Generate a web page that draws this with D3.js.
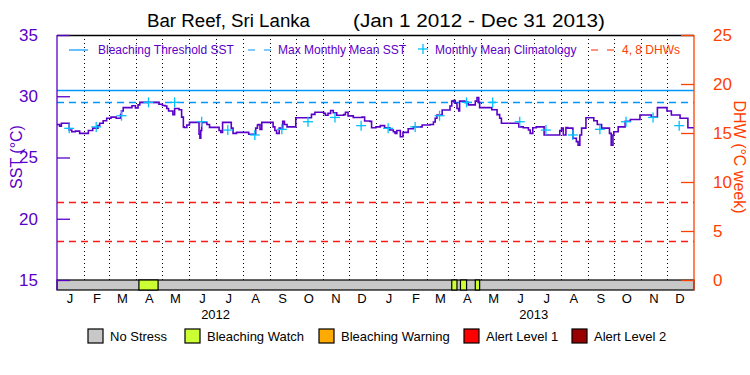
<!DOCTYPE html>
<html>
<head>
<meta charset="utf-8">
<script src="https://cdn.jsdelivr.net/npm/d3@7"></script>
<style>
  body { margin: 0; background: #fff; }
  text { font-family: "Liberation Sans", Arial, sans-serif; }
</style>
</head>
<body>
<div id="chart"></div>
<script>

// SST series, days since 2012-01-01 and degrees C
var sstDays = [0, 3, 5, 13, 14, 17, 21, 26, 36, 41, 47, 49, 53, 57, 62, 68, 73, 74, 76, 86,
  90, 93, 95, 117, 121, 124, 126, 128, 133, 135, 140, 143, 145, 146, 149, 152, 162, 163, 164, 165,
  166, 172, 175, 186, 188, 190, 199, 200, 202, 206, 220, 227, 228, 230, 231, 233, 235, 246, 248, 250,
  252, 255, 259, 261, 264, 274, 292, 296, 306, 308, 311, 314, 317, 321, 329, 331, 334, 340, 350, 353,
  359, 361, 366, 371, 376, 382, 386, 388, 390, 394, 397, 403, 409, 419, 428, 432, 434, 436, 442, 451,
  453, 455, 457, 459, 461, 462, 468, 472, 480, 482, 484, 485, 499, 505, 508, 510, 528, 530, 535, 541,
  543, 546, 550, 559, 577, 579, 581, 584, 586, 592, 596, 598, 600, 602, 607, 614, 616, 620, 625, 634,
  636, 638, 639, 644, 652, 658, 669, 682, 689, 698, 700, 705, 715, 724, 731];
var sstValues = [27.7, 27.55, 27.8, 27.8, 27.25, 27.1, 27.15, 26.97, 27.2, 27.4, 27.6, 27.8, 28.0, 28.2, 28.3, 28.2, 28.5, 28.8, 29.07, 29.23,
  29.05, 29.3, 29.5, 29.35, 29.25, 29.2, 29.0, 28.8, 28.5, 29.0, 28.9, 28.3, 27.5, 27.45, 27.65, 27.87, 27.87, 26.9, 26.57, 27.2,
  27.87, 27.7, 27.46, 27.2, 27.05, 27.87, 27.87, 27.4, 26.97, 27.05, 26.9, 26.9, 27.4, 27.65, 27.7, 27.3, 27.87, 27.87, 27.5, 27.2,
  26.97, 27.4, 27.95, 27.7, 27.5, 28.25, 28.52, 28.69, 28.6, 28.45, 28.6, 28.84, 28.65, 28.45, 28.5, 28.69, 28.4, 28.27, 28.3, 27.98,
  27.95, 27.43, 27.5, 27.6, 27.43, 27.25, 27.1, 26.97, 27.2, 26.7, 27.05, 27.35, 27.5, 27.65, 27.7, 27.9, 28.2, 28.47, 28.88, 29.2,
  29.6, 29.65, 29.43, 29.0, 28.8, 29.6, 29.5, 29.3, 29.6, 29.9, 29.5, 29.07, 28.9, 28.5, 28.2, 27.8, 27.8, 27.5, 27.43, 27.25,
  26.97, 27.43, 27.5, 26.84, 27.2, 27.4, 26.84, 27.45, 27.4, 26.57, 26.3, 26.0, 26.84, 27.4, 28.25, 28.25, 28.0, 27.7, 27.4, 26.97,
  26.0, 26.84, 27.1, 27.5, 27.96, 28.1, 28.47, 28.3, 29.07, 29.07, 28.8, 28.47, 28.2, 27.43, 27.43];

// monthly mean climatology, Jan..Dec
var climMonths = ["Jan", "Feb", "Mar", "Apr", "May", "Jun", "Jul", "Aug", "Sep", "Oct", "Nov", "Dec"];
var climValues = [27.38, 27.5, 28.41, 29.5, 29.5, 27.92, 27.24, 26.84, 27.3, 27.92, 28.27, 27.6];

var mmm = 29.5;
var bleachingThreshold = 30.5;
var dhwLevels = [4, 8];

// stress periods shown in the bar under the plot
var stressStart = ["2012-04-04", "2013-03-29", "2013-04-08", "2013-04-25"];
var stressEnd = ["2012-04-26", "2013-04-04", "2013-04-15", "2013-04-30"];
var stressLevel = ["Bleaching Watch", "Bleaching Watch", "Bleaching Watch", "Bleaching Watch"];

var stressNames = ["No Stress", "Bleaching Watch", "Bleaching Warning", "Alert Level 1", "Alert Level 2"];
var stressColors = ["#c8c8c8", "#ccff33", "#ffaa00", "#ff0000", "#990000"];

var sstTicks = [15, 20, 25, 30, 35];
var dhwTicks = [0, 5, 10, 15, 20, 25];

var PURPLE = "#5a00c8";
var ORANGE = "#ff4000";
var BLUE = "#0096ff";
var CYAN = "#00c0ff";

var W = 750, H = 375;
// note: "top" is a reserved window property, so use plot* names
var plotL = 57, plotR = 694, plotT = 35, plotB = 280, barH = 10;

var svg = d3.select("#chart").append("svg")
  .attr("width", W).attr("height", H);

var parse = d3.timeParse("%Y-%m-%d");
var t0 = new Date(2012, 0, 1), t1 = new Date(2014, 0, 1);

var x = d3.scaleTime().domain([t0, t1]).range([plotL, plotR]);
var ySst = d3.scaleLinear().domain([15, 35]).range([plotB, plotT]);
var yDhw = d3.scaleLinear().domain([0, 25]).range([plotB, plotT]);

function crisp(v) { return Math.round(v) + 0.5; }

// title
svg.append("text").attr("x", 147).attr("y", 27).attr("font-size", 18)
  .attr("textLength", 163).attr("lengthAdjust", "spacingAndGlyphs").text("Bar Reef, Sri Lanka");
svg.append("text").attr("x", 353).attr("y", 27).attr("font-size", 18)
  .attr("textLength", 252).attr("lengthAdjust", "spacingAndGlyphs").text("(Jan 1 2012 - Dec 31 2013)");

// month dividers
svg.append("g").selectAll("line")
  .data(d3.timeMonth.range(new Date(2012, 1, 1), t1))
  .enter().append("line")
  .attr("x1", function(d) { return crisp(x(d)); })
  .attr("x2", function(d) { return crisp(x(d)); })
  .attr("y1", plotT).attr("y2", plotB)
  .attr("stroke", "#000").attr("stroke-width", 1).attr("stroke-dasharray", "1,3");

// top border
svg.append("line").attr("x1", plotL).attr("x2", plotR).attr("y1", plotT + 0.5).attr("y2", plotT + 0.5)
  .attr("stroke", "#000").attr("stroke-width", 1.3);

// threshold and MMM
svg.append("line").attr("x1", plotL).attr("x2", plotR)
  .attr("y1", crisp(ySst(bleachingThreshold))).attr("y2", crisp(ySst(bleachingThreshold)))
  .attr("stroke", BLUE).attr("stroke-width", 1.3);
svg.append("line").attr("x1", plotL).attr("x2", plotR)
  .attr("y1", crisp(ySst(mmm))).attr("y2", crisp(ySst(mmm)))
  .attr("stroke", BLUE).attr("stroke-width", 1.3).attr("stroke-dasharray", "7,5");

// DHW 4 and 8 reference lines
svg.append("g").selectAll("line").data(dhwLevels).enter().append("line")
  .attr("x1", plotL).attr("x2", plotR)
  .attr("y1", function(d) { return crisp(yDhw(d)); }).attr("y2", function(d) { return crisp(yDhw(d)); })
  .attr("stroke", "#ff1a1a").attr("stroke-width", 1.3).attr("stroke-dasharray", "7,5");

// SST line
var sstData = sstDays.map(function(d, i) { return { date: d3.timeDay.offset(t0, d), v: sstValues[i] }; });
var line = d3.line()
  .x(function(d) { return x(d.date); })
  .y(function(d) { return ySst(d.v); })
  .curve(d3.curveStepAfter);
svg.append("path").datum(sstData)
  .attr("d", line)
  .attr("fill", "none").attr("stroke", PURPLE).attr("stroke-width", 1.6);

// climatology crosses, mid-month both years
var climData = [];
[2012, 2013].forEach(function(yr) {
  climValues.forEach(function(v, m) { climData.push({ date: new Date(yr, m, 15), v: v }); });
});
var cross = svg.append("g").selectAll("g").data(climData).enter().append("g")
  .attr("transform", function(d) { return "translate(" + x(d.date) + "," + ySst(d.v) + ")"; });
cross.append("line").attr("x1", -5).attr("x2", 5).attr("stroke", CYAN).attr("stroke-width", 1.3);
cross.append("line").attr("y1", -5).attr("y2", 5).attr("stroke", CYAN).attr("stroke-width", 1.3);

// stress bar
svg.append("rect").attr("x", plotL).attr("y", plotB).attr("width", plotR - plotL).attr("height", barH)
  .attr("fill", stressColors[0]).attr("stroke", "#000").attr("stroke-width", 1.2);
svg.append("g").selectAll("rect").data(stressStart).enter().append("rect")
  .attr("x", function(d) { return x(parse(d)); })
  .attr("width", function(d, i) { return x(parse(stressEnd[i])) - x(parse(d)); })
  .attr("y", plotB).attr("height", barH)
  .attr("fill", function(d, i) { return stressColors[stressNames.indexOf(stressLevel[i])]; })
  .attr("stroke", "#000").attr("stroke-width", 1.2);

// left axis
var gl = svg.append("g").attr("transform", "translate(" + plotL + ",0)");
gl.call(d3.axisLeft(ySst).tickValues(d3.range(15, 36)).tickSize(-6).tickFormat(""));
gl.call(d3.axisLeft(ySst).tickValues(sstTicks).tickSize(-13).tickPadding(19).tickFormat(d3.format("d")));
gl.select(".domain").attr("d", "M0," + plotT + "V" + (plotB + barH));
gl.selectAll("line, path").attr("stroke", PURPLE).attr("stroke-width", 1.3);
gl.selectAll("text").attr("fill", PURPLE).attr("font-size", 17).attr("font-family", "Liberation Sans, Arial, sans-serif");

// right axis
var gr = svg.append("g").attr("transform", "translate(" + plotR + ",0)");
gr.call(d3.axisRight(yDhw).tickValues(d3.range(0, 26)).tickSize(-6).tickFormat(""));
gr.call(d3.axisRight(yDhw).tickValues(dhwTicks).tickSize(-13).tickPadding(19).tickFormat(d3.format("d")));
gr.select(".domain").attr("d", "M0," + plotT + "V" + (plotB + barH));
gr.selectAll("line, path").attr("stroke", ORANGE).attr("stroke-width", 1.3);
gr.selectAll("text").attr("fill", ORANGE).attr("font-size", 17).attr("font-family", "Liberation Sans, Arial, sans-serif");

// axis titles
svg.append("text").attr("transform", "translate(22,157) rotate(-90)")
  .attr("text-anchor", "middle").attr("font-size", 16).attr("fill", PURPLE).text("SST (°C)");
svg.append("text").attr("transform", "translate(734,157) rotate(90)")
  .attr("text-anchor", "middle").attr("font-size", 16).attr("fill", ORANGE).text("DHW (°C week)");

// month and year labels
var months = d3.timeMonth.range(t0, t1);
svg.append("g").selectAll("text").data(months).enter().append("text")
  .attr("x", function(d) { return x(d3.timeDay.offset(d, 15)); })
  .attr("y", 303).attr("text-anchor", "middle").attr("font-size", 13)
  .text(function(d) { return d3.timeFormat("%b")(d).charAt(0); });
svg.append("g").selectAll("text").data([2012, 2013]).enter().append("text")
  .attr("x", function(d) { return x(new Date(d, 6, 1)); })
  .attr("y", 319).attr("text-anchor", "middle").attr("font-size", 13)
  .text(function(d) { return d; });

// top legend
var ly = 50;
svg.append("line").attr("x1", 69).attr("x2", 88).attr("y1", ly).attr("y2", ly).attr("stroke", BLUE).attr("stroke-width", 1.2);
svg.append("text").attr("x", 98).attr("y", ly + 4).attr("font-size", 12).attr("fill", PURPLE).text("Bleaching Threshold SST");
svg.append("line").attr("x1", 248).attr("x2", 271).attr("y1", ly).attr("y2", ly).attr("stroke", BLUE).attr("stroke-width", 1.2).attr("stroke-dasharray", "7,9");
svg.append("text").attr("x", 278).attr("y", ly + 4).attr("font-size", 12).attr("fill", PURPLE).text("Max Monthly Mean SST");
svg.append("line").attr("x1", 418).attr("x2", 428).attr("y1", ly - 1).attr("y2", ly - 1).attr("stroke", CYAN).attr("stroke-width", 1.3);
svg.append("line").attr("x1", 423).attr("x2", 423).attr("y1", ly - 6).attr("y2", ly + 4).attr("stroke", CYAN).attr("stroke-width", 1.3);
svg.append("text").attr("x", 435).attr("y", ly + 4).attr("font-size", 12).attr("fill", PURPLE).text("Monthly Mean Climatology");
svg.append("line").attr("x1", 591).attr("x2", 614).attr("y1", ly).attr("y2", ly).attr("stroke", "#ff2000").attr("stroke-width", 1.2).attr("stroke-dasharray", "7,9");
svg.append("text").attr("x", 622).attr("y", ly + 4).attr("font-size", 12).attr("fill", ORANGE).text("4, 8 DHWs");

// bottom legend
var legendX = [88, 185, 319, 464, 572];
var leg = svg.append("g").selectAll("g").data(stressNames).enter().append("g")
  .attr("transform", function(d, i) { return "translate(" + legendX[i] + ",329)"; });
leg.append("rect").attr("width", 15).attr("height", 14)
  .attr("fill", function(d, i) { return stressColors[i]; })
  .attr("stroke", "#000").attr("stroke-width", 1.2);
leg.append("text").attr("x", 22).attr("y", 12).attr("font-size", 13).text(function(d) { return d; });

</script>
</body>
</html>
